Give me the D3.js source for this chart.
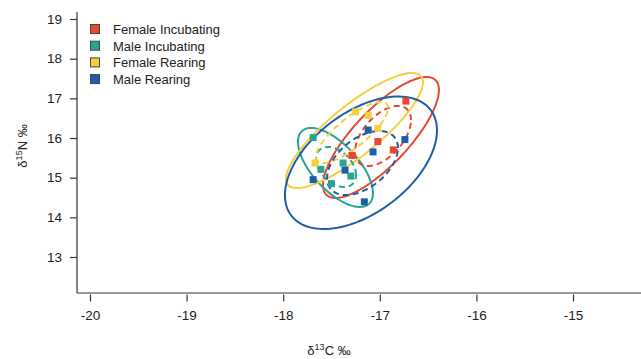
<!DOCTYPE html>
<html>
<head>
<meta charset="utf-8">
<script src="https://cdn.jsdelivr.net/npm/d3@7"></script>
<style>
  body { margin: 0; background: #fff; }
  svg { font-family: Arial, "Liberation Sans", sans-serif; }
</style>
</head>
<body>
<svg id="chart" width="641" height="359"></svg>
<script>
// groups and colours
var groups = ["Female Incubating", "Male Incubating", "Female Rearing", "Male Rearing"];
var colors = ["#e8482f", "#27a592", "#f4cf3f", "#1e5ea8"];

// isotope values (d13C, d15N)
var femaleIncC = [-16.73, -17.02, -16.86, -17.29];
var femaleIncN = [16.93, 15.91, 15.70, 15.56];
var maleIncC = [-17.69, -17.61, -17.38, -17.30, -17.50];
var maleIncN = [16.01, 15.21, 15.37, 15.04, 14.85];
var femaleRearC = [-17.25, -17.12, -17.02, -17.67];
var femaleRearN = [16.66, 16.57, 16.24, 15.37];
var maleRearC = [-17.12, -16.74, -17.07, -17.69, -17.36, -17.16];
var maleRearN = [16.20, 15.96, 15.65, 14.95, 15.19, 14.39];

// ellipses per group: [mean C, mean N, sd C, sd N, correlation]
var ellipseOuter = [
    [-16.988, 16.013, 0.600, 1.525, 0.785],
    [-17.459, 15.257, 0.388, 0.996, -0.65],
    [-17.262, 16.189, 0.709, 1.449, 0.84],
    [-17.195, 15.376, 0.787, 1.670, 0.49]
];
var ellipseInner = [
    [-16.967, 16.051, 0.290, 0.756, 0.53],
    [-17.453, 15.269, 0.207, 0.504, -0.4],
    [-17.288, 16.139, 0.373, 0.769, 0.80],
    [-17.179, 15.370, 0.367, 0.807, 0.47]
];

var xTicks = [-20, -19, -18, -17, -16, -15];
var yTicks = [13, 14, 15, 16, 17, 18, 19];

var cols = [[femaleIncC, femaleIncN], [maleIncC, maleIncN], [femaleRearC, femaleRearN], [maleRearC, maleRearN]];
var points = [];
cols.forEach(function (c, g) {
    c[0].forEach(function (v, i) { points.push({ g: g, c: v, n: c[1][i] }); });
});

var svg = d3.select("#chart");

var x = d3.scaleLinear().domain([-20, -15]).range([90, 573]);
var y = d3.scaleLinear().domain([13, 19]).range([257, 19]);

// axes, L-shaped box
var left = 77, bottom = 293;
svg.append("line")
    .attr("x1", left).attr("x2", left).attr("y1", 12).attr("y2", bottom)
    .attr("stroke", "#333").attr("stroke-width", 1.2);
svg.append("line")
    .attr("x1", left).attr("x2", 641).attr("y1", bottom).attr("y2", bottom)
    .attr("stroke", "#333").attr("stroke-width", 1.2);

// plain hyphen for negatives, like the original
var fmt = function (d) { return String(d); };

var xa = d3.axisBottom(x).tickValues(xTicks).tickSize(7).tickPadding(9).tickFormat(fmt);
var gx = svg.append("g").attr("transform", "translate(0," + (bottom + 1.5) + ")").call(xa);
gx.select(".domain").remove();

var ya = d3.axisLeft(y).tickValues(yTicks).tickSize(7).tickPadding(8).tickFormat(fmt);
var gy = svg.append("g").attr("transform", "translate(" + left + ",0)").call(ya);
gy.select(".domain").remove();

svg.selectAll(".tick line").attr("stroke", "#333").attr("stroke-width", 1.2);
svg.selectAll(".tick text").attr("fill", "#222").style("font-size", "13.5px")
    .style("font-family", "Arial, 'Liberation Sans', sans-serif");

// axis titles
var xt = svg.append("text").attr("x", 329).attr("y", 355)
    .attr("text-anchor", "middle").attr("fill", "#222").style("font-size", "13px");
xt.append("tspan").text("δ");
xt.append("tspan").attr("dy", -5).style("font-size", "9px").text("13");
xt.append("tspan").attr("dy", 5).text("C ‰");

var yt = svg.append("text").attr("transform", "translate(27,146) rotate(-90)")
    .attr("text-anchor", "middle").attr("fill", "#222").style("font-size", "13px");
yt.append("tspan").text("δ");
yt.append("tspan").attr("dy", -5).style("font-size", "9px").text("15");
yt.append("tspan").attr("dy", 5).text("N ‰");

// ellipses
function ellipsePts(e) {
    var out = [], k = Math.sqrt(1 - e[4] * e[4]);
    for (var i = 0; i < 120; i++) {
        var t = i / 120 * 2 * Math.PI;
        out.push([e[0] + e[2] * Math.cos(t), e[1] + e[3] * (e[4] * Math.cos(t) + k * Math.sin(t))]);
    }
    return out;
}
var line = d3.line().x(function (d) { return x(d[0]); }).y(function (d) { return y(d[1]); })
    .curve(d3.curveLinearClosed);

svg.selectAll("path.outer")
    .data(ellipseOuter)
    .join("path")
    .attr("class", "outer")
    .attr("d", function (d) { return line(ellipsePts(d)); })
    .attr("fill", "none")
    .attr("stroke", function (d, i) { return colors[i]; })
    .attr("stroke-width", 2);

svg.selectAll("path.inner")
    .data(ellipseInner)
    .join("path")
    .attr("class", "inner")
    .attr("d", function (d) { return line(ellipsePts(d)); })
    .attr("fill", "none")
    .attr("stroke", function (d, i) { return colors[i]; })
    .attr("stroke-width", 2)
    .attr("stroke-dasharray", "6,4");

// points
var s = 7;
svg.selectAll("rect.pt")
    .data(points)
    .join("rect")
    .attr("class", "pt")
    .attr("x", function (d) { return x(d.c) - s / 2; })
    .attr("y", function (d) { return y(d.n) - s / 2; })
    .attr("width", s).attr("height", s)
    .attr("fill", function (d) { return colors[d.g]; });

// legend
var lg = svg.append("g").attr("transform", "translate(90,29)");
var row = lg.selectAll("g").data(groups).join("g")
    .attr("transform", function (d, i) { return "translate(0," + (i * 16.7) + ")"; });
row.append("rect").attr("x", 0.5).attr("y", -4.5).attr("width", 9).attr("height", 9)
    .attr("fill", function (d, i) { return colors[i]; })
    .attr("stroke", "#444").attr("stroke-width", 1);
row.append("text").attr("x", 23).attr("y", 5).attr("fill", "#222")
    .style("font-size", "13px").text(function (d) { return d; });
</script>
</body>
</html>
